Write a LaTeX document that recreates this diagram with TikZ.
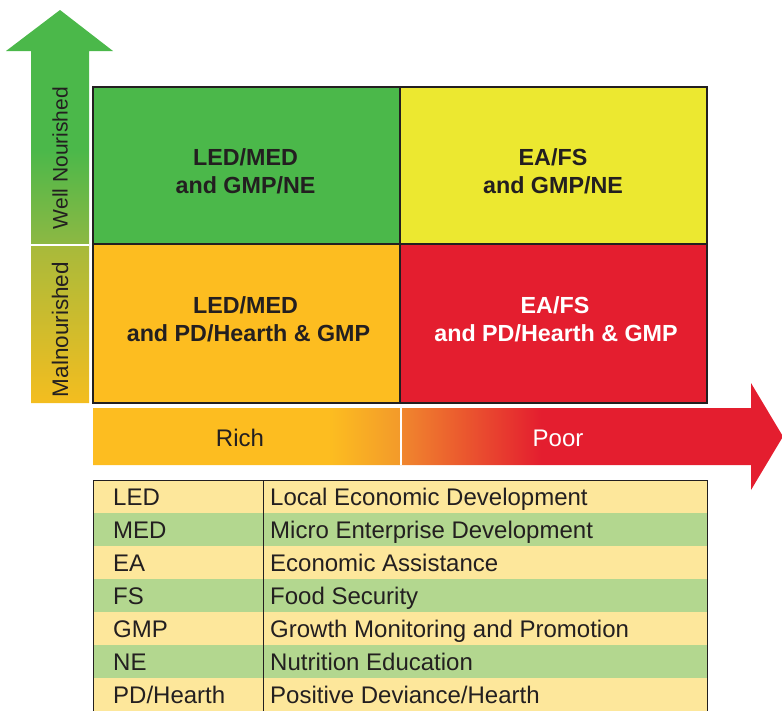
\documentclass[tikz,border=0pt]{standalone}
\usepackage{fontspec}
\setmainfont{Liberation Sans}
\definecolor{ink}{HTML}{231F20}
\definecolor{leafgreen}{HTML}{4BB84A}
\definecolor{lemon}{HTML}{ECE830}
\definecolor{amber}{HTML}{FDBD20}
\definecolor{crimson}{HTML}{E41E2F}
\definecolor{olive}{HTML}{8DB843}
\definecolor{oliveyellow}{HTML}{A8BA3B}
\definecolor{goldbottom}{HTML}{F4BD1F}
\definecolor{tangerine}{HTML}{F39A2A}
\definecolor{tangerinetwo}{HTML}{F0862E}
\definecolor{paleyellow}{HTML}{FDE79B}
\definecolor{palegreen}{HTML}{B3D78F}
% colour runs along the two axis arrows (path box maps to 25bp..75bp)
\pgfdeclareverticalshading{nourish}{100bp}{color(0bp)=(goldbottom); color(25bp)=(goldbottom);
  color(44.97bp)=(oliveyellow); color(45.23bp)=(olive); color(57.19bp)=(leafgreen);
  color(100bp)=(leafgreen)}
\pgfdeclarehorizontalshading{wealth}{100bp}{color(0bp)=(amber); color(25bp)=(amber);
  color(42.10bp)=(amber); color(47.25bp)=(tangerine); color(47.39bp)=(tangerinetwo);
  color(57.46bp)=(crimson); color(100bp)=(crimson)}
\begin{document}
\begin{tikzpicture}[x=1pt,y=-1pt,
  cell/.style={draw=ink, line width=2.5pt, minimum width=307pt, inner sep=0pt},
  celltext/.style={anchor=base, inner sep=0pt, text=ink,
    font=\fontsize{23.3}{23.3}\selectfont\bfseries},
  axislabel/.style={font=\fontsize{21}{21}\selectfont, text=ink, inner sep=0pt},
  barlabel/.style={anchor=base, font=\fontsize{24}{24}\selectfont, inner sep=0pt},
  rowband/.style={minimum width=614pt, minimum height=33pt, inner sep=0pt, anchor=north west},
  entry/.style={anchor=base west, font=\fontsize{24}{24}\selectfont, text=ink, inner sep=0pt}]
\useasboundingbox (0,0) rectangle (782,710);

% vertical axis arrow: nourishment
\shade[shading=nourish] (60,10) -- (113,51) -- (89,51) -- (89,403) -- (31,403)
  -- (31,51) -- (6,51) -- cycle;
\fill[white] (31,244) rectangle (89,246);
\node[axislabel, rotate=90] (well) at (60,158) {Well Nourished};
\node[axislabel, rotate=90, font=\fontsize{22.5}{22.5}\selectfont] (maln) at (60,329.5) {Malnourished};

% horizontal axis arrow: wealth
\shade[shading=wealth] (93,408) -- (751,408) -- (751,383) -- (783,436.5) -- (751,490)
  -- (751,465) -- (93,465) -- cycle;
\fill[white] (400,408) rectangle (402,465);
\node[barlabel, text=ink] (rich) at (240,446) {Rich};
\node[barlabel, text=white] (poor) at (558,446) {Poor};

% strategy matrix
\node[cell, fill=leafgreen, minimum height=157pt] (tl) at (246.5,165.5) {};
\node[cell, fill=lemon, minimum height=157pt] (tr) at (553.5,165.5) {};
\node[cell, fill=amber, minimum height=159pt] (bl) at (246.5,323.5) {};
\node[cell, fill=crimson, minimum height=159pt] (br) at (553.5,323.5) {};
\node[celltext] (tla) at (245.5,165) {LED/MED};
\node[celltext] (tlb) at (245.5,193) {and GMP/NE};
\node[celltext] (tra) at (553,165) {EA/FS};
\node[celltext] (trb) at (553,193) {and GMP/NE};
\node[celltext] (bla) at (245.5,313) {LED/MED};
\node[celltext] (blb) at (248.5,341.5) {and PD/Hearth \& GMP};
\node[celltext, text=white] (bra) at (555,313) {EA/FS};
\node[celltext, text=white] (brb) at (556,341.5) {and PD/Hearth \& GMP};

% legend of abbreviations
\node[rowband, fill=paleyellow] (r1) at (93,480) {};
\node[rowband, fill=palegreen]  (r2) at (93,513) {};
\node[rowband, fill=paleyellow] (r3) at (93,546) {};
\node[rowband, fill=palegreen]  (r4) at (93,579) {};
\node[rowband, fill=paleyellow] (r5) at (93,612) {};
\node[rowband, fill=palegreen]  (r6) at (93,645) {};
\node[rowband, fill=paleyellow] (r7) at (93,678) {};
\draw[ink, line width=1pt] (93,711) -- (93,480) -- (707,480) -- (707,711);
\draw[ink, line width=1pt] (263,480) -- (263,711);

\node[entry] (a1) at (113,505) {LED};
\node[entry] (a2) at (113,538) {MED};
\node[entry] (a3) at (113,571) {EA};
\node[entry] (a4) at (113,604) {FS};
\node[entry] (a5) at (113,637) {GMP};
\node[entry] (a6) at (113,670) {NE};
\node[entry] (a7) at (113,703) {PD/Hearth};
\node[entry] (f1) at (270,505) {Local Economic Development};
\node[entry] (f2) at (270,538) {Micro Enterprise Development};
\node[entry] (f3) at (270,571) {Economic Assistance};
\node[entry] (f4) at (270,604) {Food Security};
\node[entry] (f5) at (270,637) {Growth Monitoring and Promotion};
\node[entry] (f6) at (270,670) {Nutrition Education};
\node[entry] (f7) at (270,703) {Positive Deviance/Hearth};
\end{tikzpicture}
\end{document}
